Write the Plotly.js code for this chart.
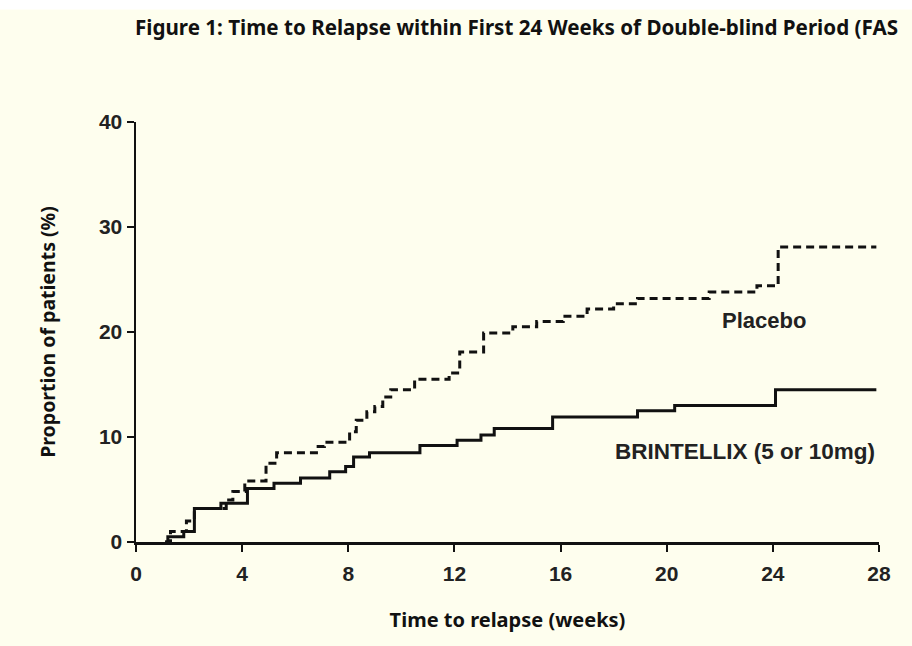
<!DOCTYPE html>
<html>
<head>
<meta charset="utf-8">
<script src="https://cdn.plot.ly/plotly-3.0.1.min.js"></script>
<style>html,body{margin:0;padding:0;background:#FEFEEE;}</style>
</head>
<body>
<div id="chart" style="width:912px;height:646px;"></div>
<script>
// Kaplan-Meier style cumulative relapse (%), step curves
const brintellixWeeks = [1.1, 1.2, 1.8, 2.2, 3.2, 4.2, 5.2, 6.2, 7.3, 7.9, 8.2, 8.8, 10.7, 12.1, 13.0, 13.5, 15.7, 18.9, 20.3, 24.1, 27.9];
const brintellixPct   = [0,   0.5, 1.0, 3.2, 3.7, 5.1, 5.6, 6.1, 6.7, 7.2, 8.1, 8.5, 9.2,  9.7,  10.2, 10.8, 11.9, 12.5, 13.0, 14.5, 14.5];

const placeboWeeks = [1.1, 1.3, 1.9, 2.2, 3.4, 3.65, 4.1, 4.9, 5.3, 6.8, 7.1, 8.05, 8.3, 8.7, 9.0, 9.3, 9.6, 10.5, 11.8, 12.2, 13.1, 14.2, 15.1, 16.1, 17.0, 18.0, 18.9, 21.6, 23.4, 24.2, 27.9];
const placeboPct   = [0,   1.0, 2.0, 3.2, 4.0, 4.8,  5.8, 7.5, 8.5, 9.1, 9.5, 10.5, 11.6, 12.4, 12.9, 13.8, 14.5, 15.5, 16.1, 18.1, 19.9, 20.5, 21.0, 21.5, 22.2, 22.7, 23.2, 23.8, 24.4, 28.1, 28.1];

const xTicks = [0, 4, 8, 12, 16, 20, 24, 28];
const yTicks = [0, 10, 20, 30, 40];

const titleText = "Figure 1: Time to Relapse within First 24 Weeks of Double-blind Period (FAS";
const xTitle = "Time to relapse (weeks)";
const yTitle = "Proportion of patients (%)";
const placeboLabel = "Placebo";
const brintellixLabel = "BRINTELLIX (5 or 10mg)";

const ink = "#111111";
const bg = "#FEFEEE";
const labelFont = "Liberation Sans, Arial, sans-serif";
const titleFamily = "Noto Sans, Open Sans, sans-serif";

const traces = [
  {x: placeboWeeks, y: placeboPct, type: "scatter", mode: "lines", line: {shape: "hv", color: ink, width: 3, dash: "8px,5px"}, name: placeboLabel, hoverinfo: "skip"},
  {x: brintellixWeeks, y: brintellixPct, type: "scatter", mode: "lines", line: {shape: "hv", color: ink, width: 3}, name: brintellixLabel, hoverinfo: "skip"}
];

const layout = {
  width: 912, height: 646,
  paper_bgcolor: bg, plot_bgcolor: bg,
  showlegend: false,
  margin: {l: 136, r: 33, t: 122, b: 104},
  xaxis: {
    range: [0, 28], tickvals: xTicks, ticktext: xTicks.map(String),
    showgrid: false, zeroline: false, showline: true, linecolor: ink, linewidth: 2.5,
    ticks: "outside", ticklen: 7, tickwidth: 2, tickcolor: ink, ticklabelstandoff: 4,
    tickfont: {family: labelFont, size: 21, color: "#222", weight: "bold"},
    title: {text: xTitle, font: {family: titleFamily, size: 20, color: "#111", weight: "bold"}, standoff: 30}
  },
  yaxis: {
    range: [0, 40], tickvals: yTicks, ticktext: yTicks.map(String),
    showgrid: false, zeroline: false, showline: true, linecolor: ink, linewidth: 2.5,
    ticks: "outside", ticklen: 7, tickwidth: 2, tickcolor: ink,
    tickfont: {family: labelFont, size: 21, color: "#222", weight: "bold"},
    title: {text: yTitle, font: {family: titleFamily, size: 19.5, color: "#111", weight: "bold"}, standoff: 38}
  },
  annotations: [
    {xref: "paper", yref: "paper", x: -0.004, y: 1.225, xanchor: "left", yanchor: "middle", showarrow: false,
     text: titleText, font: {family: titleFamily, size: 20.6, color: "#111", weight: "bold"}},
    {xref: "x", yref: "y", x: 23.66, y: 21.1, xanchor: "center", yanchor: "middle", showarrow: false,
     text: placeboLabel, font: {family: labelFont, size: 22, color: "#222", weight: "bold"}},
    {xref: "x", yref: "y", x: 22.95, y: 8.6, xanchor: "center", yanchor: "middle", showarrow: false,
     text: brintellixLabel, font: {family: labelFont, size: 22.5, color: "#222", weight: "bold"}}
  ],
  shapes: [
    {type: "rect", xref: "paper", yref: "paper", x0: -0.2, x1: 1.1, y0: 1.268, y1: 1.3, fillcolor: "#ffffff", line: {width: 0}, layer: "below"}
  ]
};

Plotly.newPlot("chart", traces, layout, {displayModeBar: false, staticPlot: true});
</script>
</body>
</html>
